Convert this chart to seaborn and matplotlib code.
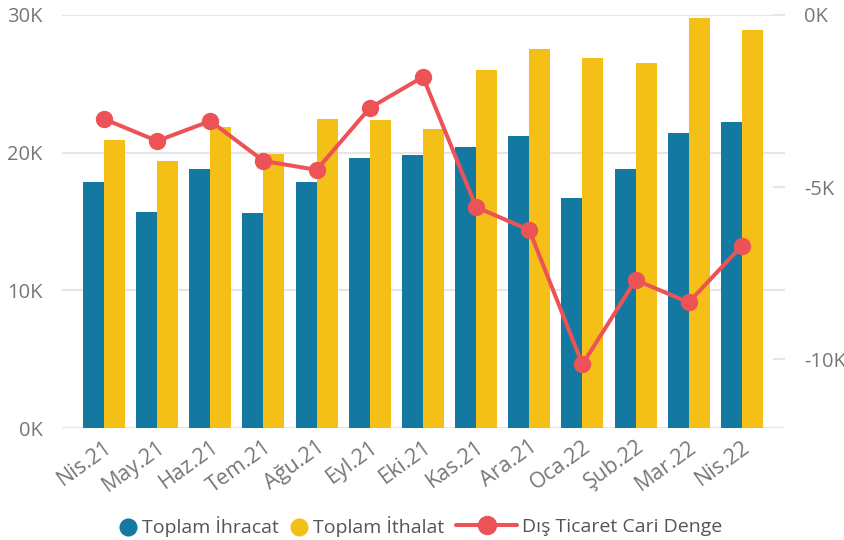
import numpy as np
import pandas as pd
import seaborn as sns
import matplotlib.pyplot as plt
from matplotlib.lines import Line2D
from matplotlib.ticker import FuncFormatter

# Monthly foreign trade figures (million USD)
aylar = ["Nis.21", "May.21", "Haz.21", "Tem.21", "Ağu.21", "Eyl.21", "Eki.21",
         "Kas.21", "Ara.21", "Oca.22", "Şub.22", "Mar.22", "Nis.22"]
ihracat = [17900, 15700, 18800, 15600, 17900, 19600, 19800,
           20400, 21200, 16700, 18800, 21400, 22200]
ithalat = [20900, 19400, 21900, 19900, 22450, 22400, 21700,
           26000, 27500, 26900, 26500, 29800, 28900]
denge = [-3020, -3660, -3080, -4240, -4500, -2700, -1800,
         -5580, -6250, -10150, -7700, -8350, -6700]

seri_adlari = ["Toplam İhracat", "Toplam İthalat", "Dış Ticaret Cari Denge"]

MAVI = "#1479A0"
SARI = "#F4C017"
KIRMIZI = "#EC5356"
IZGARA = "#E6E6E6"
ETIKET = "#777777"

sns.set_theme(style="white")
plt.rcParams["font.family"] = ["Open Sans", "DejaVu Sans"]

df = pd.DataFrame({
    "Ay": aylar * 2,
    "Değer": ihracat + ithalat,
    "Seri": [seri_adlari[0]] * len(aylar) + [seri_adlari[1]] * len(aylar),
})

fig = plt.figure(figsize=(8.44, 5.40), dpi=100)
ax = fig.add_axes([62 / 844, 1 - 428 / 540, 723 / 844, 413 / 540])

sns.barplot(data=df, x="Ay", y="Değer", hue="Seri", palette=[MAVI, SARI],
            width=0.79, saturation=1, errorbar=None, legend=False,
            linewidth=0, ax=ax)

k_fmt = FuncFormatter(lambda v, _: f"{v / 1000:.0f}K")

ax.set_xlim(-0.79, 12.81)
ax.set_ylim(0, 30000)
ax.set_yticks([0, 10000, 20000, 30000])
ax.yaxis.set_major_formatter(k_fmt)
ax.yaxis.grid(True, color=IZGARA, lw=1.5)
ax.set_axisbelow(True)
for s in ax.spines.values():
    s.set_visible(False)
ax.set_xlabel("")
ax.set_ylabel("")
ax.tick_params(axis="y", length=0, pad=14, labelsize=14.5, labelcolor=ETIKET)
ax.tick_params(axis="x", length=0, pad=6, labelsize=15.5, labelcolor=ETIKET)
plt.setp(ax.get_xticklabels(), rotation=36, ha="right", rotation_mode="anchor")

# Trade balance on the secondary axis
ax2 = ax.twinx()
sns.lineplot(x=np.arange(len(aylar)), y=denge, ax=ax2, color=KIRMIZI, lw=2.9,
             marker="o", markersize=12.5, markeredgewidth=0)
ax2.set_ylim(-12000, 0)
ax2.set_yticks([-10000, -5000, 0])
ax2.yaxis.set_major_formatter(k_fmt)
ax2.grid(False)
for s in ax2.spines.values():
    s.set_visible(False)
ax2.set_ylabel("")
ax2.tick_params(axis="y", direction="in", length=9, width=1.5, color=IZGARA,
                pad=14, labelsize=14.5, labelcolor=ETIKET)

# Legend along the bottom
leg_y = 1 - 527 / 540
h_bar = [Line2D([], [], ls="none", marker="o", ms=13, color=c, mew=0) for c in (MAVI, SARI)]
fig.legend(h_bar, seri_adlari[:2], loc="center left",
           bbox_to_anchor=(119 / 844, leg_y), ncol=2, frameon=False,
           handlelength=0.93, handletextpad=0.26, columnspacing=0.57,
           borderpad=0, borderaxespad=0, fontsize=14, labelcolor="#555555")
h_line = [Line2D([], [], color=KIRMIZI, lw=2.9, marker="o", ms=14, mew=0)]
fig.legend(h_line, seri_adlari[2:], loc="center left",
           bbox_to_anchor=(456 / 844, leg_y), frameon=False,
           handlelength=3.14, handletextpad=0.26,
           borderpad=0, borderaxespad=0, fontsize=14, labelcolor="#555555")

fig.savefig("out.png", dpi=100)
